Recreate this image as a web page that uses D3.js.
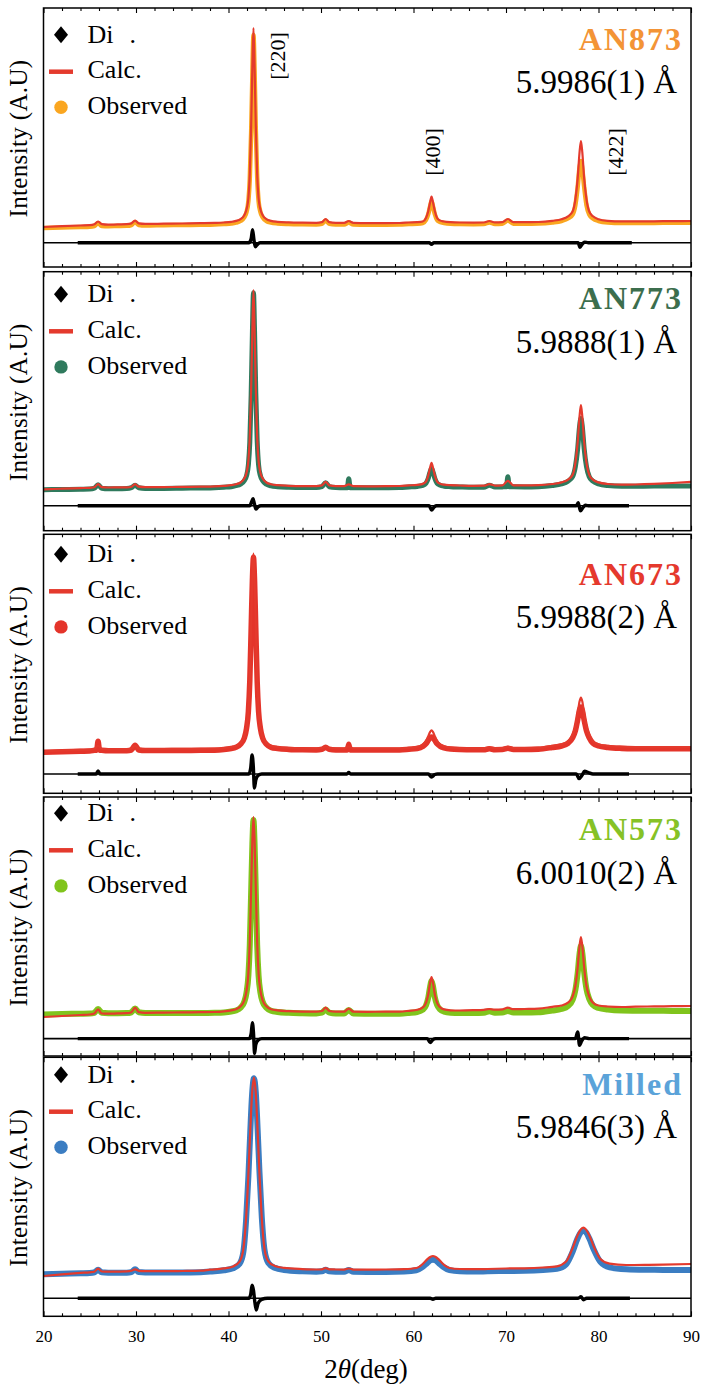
<!DOCTYPE html>
<html>
<head>
<meta charset="utf-8">
<script src="https://cdn.jsdelivr.net/npm/d3@7"></script>
<style>
  body { margin: 0; background: #fff; }
  svg { display: block; }
  text { font-family: "Liberation Serif", "Times New Roman", serif; fill: #000; }
</style>
</head>
<body>
<svg id="chart" width="704" height="1391"></svg>
<script>
// ---------------- DATA ----------------
const twoThetaDomain = [20, 90];
const intensityDomain = [0, 259];
const majorTicks = [20, 30, 40, 50, 60, 70, 80, 90];
const minorTicks = [22, 24, 26, 28, 32, 34, 36, 38, 42, 44, 46, 48, 52, 54, 56, 58, 62, 64, 66, 68, 72, 74, 76, 78, 82, 84, 86, 88];
const sampleNames = ["AN873", "AN773", "AN673", "AN573", "Milled"];
const latticeParams = ["5.9986(1) Å", "5.9888(1) Å", "5.9988(2) Å", "6.0010(2) Å", "5.9846(3) Å"];
const legendLabels = ["Di", "Calc.", "Observed"];
const peakLabels = ["[220]", "[400]", "[422]"];
const peakLabelTwoTheta = [45.3, 62.1, 81.8];
const peakLabelIntensity = [211, 115, 115];
const diffZero = [24.3, 24.9, 19.3, 17.4, 18.0];

const calcAN873 = [[20,40],[22,40.8],[24,41.5],[25,41.8],[25.5,42.8],[25.9,45.5],[26.3,42.8],[27,42.3],[28,42.6],[29,42.8],[29.5,43.6],[29.9,46.3],[30.3,43.6],[31,43.1],[33,43.3],[35,43.5],[37,43.8],[38.5,44.1],[39.5,44.5],[40.3,45.2],[40.8,46.1],[41.3,47.9],[41.7,51.8],[41.95,57.7],[42.15,69],[42.3,93],[42.45,141.5],[42.58,200],[42.7,239],[42.82,200],[42.95,141.5],[43.1,93],[43.25,69],[43.45,57.7],[43.7,51.8],[44.1,47.9],[44.6,46.1],[45.3,45.2],[46.5,44.6],[48,44.3],[49.5,44.2],[50.1,44.8],[50.5,48],[50.9,44.8],[51.6,44.2],[52.5,44.1],[53.0,46],[53.5,44.1],[55,43.9],[57,43.9],[58.5,44],[59.5,44.5],[60.4,44.8],[61.0,45.5],[61.35,49],[61.6,56],[61.8,65],[61.95,70.3],[62.1,65],[62.3,56],[62.55,49],[62.85,46.6],[63.3,45.5],[64.0,44.8],[65.0,44.5],[66.5,44.4],[67.6,44.5],[68.2,46],[68.8,44.6],[69.6,44.8],[70.2,48],[70.8,44.9],[72,44.8],[73.5,45],[75,46.2],[76,47.8],[76.7,50.7],[77.2,55.5],[77.5,67.7],[77.75,88.7],[77.95,114.7],[78.1,126],[78.25,114.7],[78.45,88.7],[78.7,67.7],[79.0,55.5],[79.4,50.7],[80.0,47.8],[81,46.2],[82.5,45.6],[84,45.6],[86,45.7],[88,45.9],[90,46]];
const obsAN873 = [[20,39],[22,39.5],[24,40],[25,40.3],[25.5,41],[25.9,44],[26.3,41],[27,40.8],[28,41],[29,41.2],[29.5,42],[29.9,45],[30.3,42],[31,41.5],[33,41.8],[35,42],[37,42.2],[38.5,42.5],[39.5,43],[40.3,43.5],[40.8,44.3],[41.3,46],[41.7,49.5],[41.95,55],[42.15,66],[42.3,88],[42.45,135],[42.58,192],[42.7,232],[42.82,196],[42.95,138],[43.1,90],[43.25,66],[43.45,55],[43.7,49.5],[44.1,46],[44.6,44.5],[45.3,43.6],[46.5,43],[48,42.7],[49.5,42.6],[50.1,43.2],[50.5,46.5],[50.9,43.2],[51.6,42.6],[52.5,42.5],[53.0,44.5],[53.5,42.5],[55,42.3],[57,42.3],[58.5,42.4],[59.5,42.9],[60.4,43.2],[61.0,44],[61.35,47],[61.6,53],[61.8,61],[61.95,66],[62.1,61],[62.3,53],[62.55,47],[62.85,45],[63.3,44],[64.0,43.2],[65.0,42.9],[66.5,42.8],[67.6,42.9],[68.2,44.5],[68.8,43],[69.6,43.2],[70.2,46.5],[70.8,43.3],[72,43.2],[73.5,43.4],[75,44.5],[76,46],[76.7,48.5],[77.2,52.5],[77.5,62],[77.75,80],[77.95,100],[78.1,106],[78.25,98],[78.45,80],[78.7,62],[79.0,52.5],[79.4,48.5],[80.0,46],[81,44.5],[82.5,44],[84,44],[86,44.1],[88,44.2],[90,44.3]];
const diffAN873 = [[23.7,0],[42.2,0],[42.45,4],[42.6,13],[42.75,3],[42.9,-4],[43.1,-2],[43.4,0],[61.7,0],[61.95,-1.5],[62.2,0],[77.8,0],[78.0,-4.5],[78.2,-2],[78.5,0.5],[78.9,0],[83.6,0]];

const calcAN773 = [[20,41.3],[22,42],[24,42.6],[25,42.9],[25.5,43.5],[25.9,46.6],[26.3,43.5],[27,43.2],[28,43.3],[29,43.4],[29.5,44],[29.9,46.6],[30.3,44],[31,43.5],[33,43.6],[35,43.8],[37,44],[38.5,44.3],[39.5,44.8],[40.3,45.5],[40.8,46.5],[41.3,48.2],[41.7,52.2],[41.95,58],[42.15,69.8],[42.3,93.4],[42.45,142.5],[42.58,201.3],[42.7,240.6],[42.82,201.3],[42.95,142.5],[43.1,93.4],[43.25,69.8],[43.45,58],[43.7,52.2],[44.1,48.2],[44.6,46.5],[45.3,45.5],[46.5,44.9],[48,44.6],[49.5,44.6],[50.1,45.3],[50.5,48.9],[50.9,45.3],[51.6,44.6],[52.5,44.5],[53.0,46.3],[53.5,44.5],[55,44.4],[57,44.5],[58.5,44.7],[59.5,45.3],[60.4,45.8],[61.0,46.8],[61.35,49.1],[61.6,55.3],[61.8,63.3],[61.95,67.9],[62.1,63.3],[62.3,55.3],[62.55,49.1],[62.85,47.1],[63.3,46],[64.0,45.5],[65.0,45.2],[66.5,44.9],[67.6,45],[68.2,46.6],[68.8,45.1],[69.6,45.3],[70.2,49.9],[70.8,45.4],[72,45.3],[73.5,45.5],[75,46.7],[76,48.3],[76.7,51.1],[77.2,55.9],[77.5,67.9],[77.75,88.7],[77.95,114.3],[78.1,125.6],[78.25,114.3],[78.45,88.7],[78.7,67.9],[79.0,55.9],[79.4,51.1],[80.0,48.3],[81,46.7],[82.5,46],[84,46.2],[86,46.8],[88,47.7],[90,48.9]];
const obsAN773 = [[20,41],[22,41.2],[24,41.5],[25,41.7],[25.5,42.5],[25.9,46],[26.3,42.5],[27,42],[28,42],[29,42.2],[29.5,43],[29.9,45.5],[30.3,43],[31,42.3],[33,42.3],[35,42.5],[37,42.7],[38.5,43],[39.5,43.5],[40.3,44],[40.8,45],[41.3,46.5],[41.7,50],[41.95,55],[42.15,66],[42.3,88],[42.45,136],[42.58,196],[42.7,238],[42.82,198],[42.95,138],[43.1,90],[43.25,66],[43.45,55],[43.7,50],[44.1,46.5],[44.6,44.8],[45.3,44],[46.5,43.4],[48,43.1],[49.5,43.1],[50.1,44],[50.5,48],[50.9,44],[51.6,43.2],[52.5,43],[52.85,43],[53.0,52],[53.15,43],[53.5,43],[55,42.9],[57,43],[58.5,43.2],[59.5,43.8],[60.4,44.3],[61.0,45.3],[61.35,47.5],[61.6,52.5],[61.8,59],[61.95,62.3],[62.1,59],[62.3,52.5],[62.55,47.5],[62.85,45.6],[63.3,44.5],[64.0,44],[65.0,43.7],[66.5,43.4],[67.6,43.5],[68.2,45.5],[68.8,43.6],[69.6,43.8],[70.05,44],[70.2,54],[70.35,44],[70.8,43.9],[72,43.8],[73.5,44],[75,45.2],[76,46.8],[76.7,49.5],[77.2,54],[77.5,64],[77.75,82],[77.95,104],[78.1,112.3],[78.25,104],[78.45,82],[78.7,64],[79.0,54],[79.4,49.5],[80.0,46.8],[81,45.2],[82.5,44.5],[84,44.5],[86,44.6],[88,44.7],[90,44.8]];
const diffAN773 = [[23.7,0],[42.3,0],[42.5,4],[42.65,7],[42.8,2],[42.95,-3.3],[43.2,-1],[43.5,0],[61.7,0],[61.95,-4.3],[62.25,-1],[62.5,0],[77.6,0],[77.8,3],[78.05,-5],[78.3,-2],[78.6,0.5],[79,0],[83.3,0]];

const calcAN673 = [[20,42],[22,42.8],[24,43.4],[25,43.7],[25.5,44.3],[25.9,47.5],[26.3,44.3],[27,44],[28,44.1],[29,44.2],[29.5,44.8],[29.9,47.5],[30.3,44.8],[31,44.3],[33,44.3],[35,44.4],[37,44.5],[38.5,44.6],[39.5,45.2],[40.3,46.3],[40.8,47.4],[41.3,50.4],[41.7,56.2],[41.95,66],[42.15,83.5],[42.3,114.8],[42.45,169.5],[42.58,216.3],[42.7,239.7],[42.82,216.3],[42.95,169.5],[43.1,114.8],[43.25,83.5],[43.45,66],[43.7,56.2],[44.1,50.4],[44.6,47.4],[45.3,46.3],[46.5,45.4],[48,45],[49.5,44.9],[50.1,45.3],[50.5,47],[50.9,45.3],[51.6,44.9],[52.5,44.8],[53.0,47],[53.5,44.8],[55,44.7],[57,44.7],[58.5,44.8],[59.5,45.5],[60.4,46.4],[61.0,48.8],[61.35,52.4],[61.6,57.2],[61.8,61.5],[61.95,63],[62.1,61.5],[62.3,57.2],[62.55,52.4],[62.85,49.2],[63.3,47],[64.0,45.7],[65.0,45.2],[66.5,45],[67.6,45],[68.2,46],[68.8,45.1],[69.6,45.2],[70.2,46.5],[70.8,45.3],[72,45.3],[73.5,45.6],[75,47.5],[76,49],[76.7,52],[77.2,58.4],[77.5,66.9],[77.75,79.8],[77.95,91.7],[78.1,95.7],[78.25,91.7],[78.45,79.8],[78.7,66.9],[79.0,58.4],[79.4,52],[80.0,49],[81,47.5],[82.5,46.6],[84,46.3],[86,46.2],[88,46.2],[90,46.3]];
const obsAN673 = [[20,41],[22,41.5],[24,42],[25,42.2],[25.5,43],[25.75,43.3],[25.9,52],[26.05,43.3],[26.3,43],[27,42.5],[28,42.5],[29,42.6],[29.5,43.3],[29.9,48],[30.3,43.3],[31,42.7],[33,42.7],[35,42.8],[37,43],[38.5,43.1],[39.5,43.7],[40.3,44.8],[40.8,46],[41.3,49],[41.7,55],[41.95,65],[42.15,82],[42.3,112],[42.45,165],[42.58,212],[42.7,236],[42.82,212],[42.95,165],[43.1,112],[43.25,82],[43.45,65],[43.7,55],[44.1,49],[44.6,46],[45.3,44.8],[46.5,43.9],[48,43.5],[49.5,43.4],[50.1,44],[50.5,46],[50.9,44],[51.6,43.4],[52.5,43.3],[52.85,43.3],[53.0,49],[53.15,43.3],[53.5,43.3],[55,43.2],[57,43.2],[58.5,43.3],[59.5,44],[60.4,44.8],[61.0,46.8],[61.35,49.5],[61.6,53],[61.8,55.6],[61.95,56.3],[62.1,55.6],[62.3,53],[62.55,49.5],[62.85,47.2],[63.3,45.5],[64.0,44.2],[65.0,43.7],[66.5,43.5],[67.6,43.5],[68.2,44.5],[68.8,43.6],[69.6,43.7],[70.2,45],[70.8,43.8],[72,43.8],[73.5,44.1],[75,45.8],[76,47.3],[76.7,50],[77.2,55.5],[77.5,62.5],[77.75,73.5],[77.95,83.5],[78.1,86.3],[78.25,83],[78.45,73],[78.7,62.5],[79.0,55.5],[79.4,50],[80.0,47.3],[81,45.8],[82.5,44.9],[84,44.6],[86,44.5],[88,44.5],[90,44.6]];
const diffAN673 = [[23.7,0],[25.7,0],[25.9,3],[26.1,0],[42.2,0],[42.4,6],[42.55,19],[42.68,8],[42.8,-14],[42.95,-6],[43.2,-1.5],[43.6,0],[52.8,0],[53,1.5],[53.2,0],[61.6,0],[61.95,-3],[62.3,-0.5],[62.6,0],[77.6,0],[77.9,-4.6],[78.2,-1.5],[78.5,2.7],[78.9,1.5],[79.4,0],[83.3,0]];

const calcAN573 = [[20,39],[22,40],[24,41],[25,41.5],[25.5,42.5],[25.9,46.7],[26.3,42.5],[27,42.3],[28,42.6],[29,42.8],[29.5,43.8],[29.9,48.4],[30.3,43.8],[31,43.2],[33,43.4],[35,43.6],[37,43.8],[38.5,44],[39.5,44.6],[40.3,45.6],[40.8,46.7],[41.3,49.7],[41.7,55.5],[41.95,65.3],[42.15,82.8],[42.3,114.1],[42.45,168.7],[42.58,215.6],[42.7,239],[42.82,215.6],[42.95,168.7],[43.1,114.1],[43.25,82.8],[43.45,65.3],[43.7,55.5],[44.1,49.7],[44.6,46.7],[45.3,45.6],[46.5,44.8],[48,44.4],[49.5,44.3],[50.1,45],[50.5,48.4],[50.9,45],[51.6,44.3],[52.5,44.3],[53.0,47.4],[53.5,44.3],[55,44.2],[57,44.3],[58.5,44.4],[59.5,45.2],[60.4,46.2],[61.0,48.6],[61.35,53.1],[61.6,61.8],[61.8,73.5],[61.95,79],[62.1,73.5],[62.3,61.8],[62.55,53.1],[62.85,49],[63.3,46.6],[64.0,45.7],[65.0,45.5],[66.5,45.8],[67.6,46.2],[68.2,47],[68.8,46.4],[69.6,46.6],[70.2,48.4],[70.8,46.8],[72,47],[73.5,47.3],[75,49.2],[76,50.5],[76.7,53.3],[77.2,59.4],[77.5,70],[77.75,88.5],[77.95,109.8],[78.1,119],[78.25,109.8],[78.45,88.5],[78.7,70],[79.0,59.4],[79.4,53.3],[80.0,50.5],[81,49.5],[82.5,49],[84,49.3],[86,49.6],[88,49.8],[90,50]];
const obsAN573 = [[20,41.5],[22,42],[24,42.3],[25,42.5],[25.5,43.2],[25.9,47],[26.3,43.2],[27,42.8],[28,42.8],[29,42.9],[29.5,43.7],[29.9,47.5],[30.3,43.7],[31,43],[33,43],[35,43],[37,43],[38.5,43.2],[39.5,43.6],[40.3,44.5],[40.8,45.5],[41.3,48.3],[41.7,54],[41.95,63.5],[42.15,80.5],[42.3,111],[42.45,165],[42.58,212],[42.7,236],[42.82,212],[42.95,165],[43.1,111],[43.25,80.5],[43.45,63.5],[43.7,54],[44.1,48.3],[44.6,45.3],[45.3,44],[46.5,43.2],[48,42.8],[49.5,42.6],[50.1,43.3],[50.5,46.5],[50.9,43.3],[51.6,42.5],[52.5,42.5],[53.0,46],[53.5,42.5],[55,42.3],[57,42.2],[58.5,42.3],[59.5,43],[60.4,44],[61.0,46.3],[61.35,50.5],[61.6,58.5],[61.8,69.5],[61.95,75],[62.1,70],[62.3,59],[62.55,51],[62.85,46.8],[63.3,44.4],[64.0,43.3],[65.0,43],[66.5,43],[67.6,43.2],[68.2,44.8],[68.8,43.3],[69.6,43.4],[70.2,45],[70.8,43.5],[72,43.5],[73.5,43.7],[75,45.5],[76,47],[76.7,50],[77.2,56],[77.5,66],[77.75,83],[77.95,102],[78.1,110],[78.25,103],[78.45,84],[78.7,67],[79.0,57],[79.4,51],[80.0,48],[81,46.5],[82.5,45.5],[84,45.3],[86,45.2],[88,45.1],[90,45]];
const diffAN573 = [[23.7,0],[42.25,0],[42.45,5],[42.58,16],[42.7,6],[42.82,-15],[42.95,-6],[43.2,-1.5],[43.6,0],[61.5,0],[61.8,-4],[62.1,-1],[62.4,0],[77.5,0],[77.75,6.6],[77.95,-6.7],[78.2,-2],[78.5,1],[79,0],[83.3,0]];

const calcMilled = [[20,40.3],[22,42],[24,43.4],[25,44],[25.5,44.6],[25.9,47.7],[26.3,44.8],[27,44.6],[28,44.7],[29,44.9],[29.5,45.5],[29.9,47],[30.3,45.5],[31,45.1],[33,45.1],[35,45.3],[37,45.6],[38,46.6],[39.5,47.9],[40.5,49.9],[41.2,54.7],[41.6,67],[41.9,98],[42.15,142],[42.35,185],[42.55,223],[42.75,238.6],[42.95,223],[43.15,185],[43.35,142],[43.6,98],[43.9,67],[44.3,55],[45,50.4],[46,48.4],[48,47.2],[49.5,46.8],[50.1,47],[50.5,48.2],[50.9,47],[51.6,46.8],[52.5,46.7],[53.0,47.8],[53.5,46.7],[55,46.7],[57,46.8],[59,47.2],[60.3,48.3],[61.0,52.3],[61.5,57.1],[61.85,59.6],[62.1,60.3],[62.35,59.6],[62.7,57.1],[63.2,52.3],[63.9,48.3],[65,47.3],[66.5,47.1],[68,47.3],[70,47.8],[72,48],[74,48.8],[75.5,50],[76.5,54.8],[77.2,68.2],[77.7,80.2],[78.05,86.5],[78.35,88.6],[78.65,86.7],[79.0,81],[79.5,69.5],[80.2,57.4],[81.2,52.7],[83,51.3],[85,51.4],[87,51.7],[90,52.3]];
const obsMilled = [[20,42],[22,42.5],[24,43],[25,43.3],[25.5,44],[25.9,46.5],[26.3,44],[27,43.6],[28,43.5],[29,43.6],[29.5,44.2],[29.9,47],[30.3,44.2],[31,43.8],[33,43.7],[35,43.8],[37,44],[38,44.8],[39.5,46],[40.5,48],[41.2,52.5],[41.6,64],[41.9,96],[42.15,140],[42.35,184],[42.55,222],[42.75,238],[42.95,224],[43.15,187],[43.35,144],[43.6,99],[43.9,66],[44.3,53.5],[45,48.5],[46,46.3],[48,45],[49.5,44.6],[50.1,45],[50.5,46.5],[50.9,45],[51.6,44.6],[52.5,44.5],[53.0,46.3],[53.5,44.5],[55,44.4],[57,44.4],[59,44.8],[60.3,46],[61.0,49.5],[61.5,53.5],[61.85,56],[62.1,56.5],[62.35,56],[62.7,53.5],[63.2,49.5],[63.9,46.2],[65,45],[66.5,44.8],[68,45],[70,45.3],[72,45.5],[74,46.3],[75.5,47.5],[76.5,52],[77.2,64.5],[77.7,77],[78.05,83.5],[78.35,85.5],[78.65,84],[79.0,78],[79.5,66.5],[80.2,54.5],[81.2,49],[83,47],[85,46.5],[87,46.4],[90,46.3]];
const diffMilled = [[23.7,0],[42.2,0],[42.4,4],[42.55,13],[42.7,8],[42.85,-4],[43.0,-11.7],[43.2,-5],[43.6,-1],[44.2,0],[61.8,0],[62.1,-1],[62.4,0],[77.8,0],[78.1,1.5],[78.4,-1.5],[78.7,0],[83.4,0]];

// ---------------- STYLE / LAYOUT ----------------
const calcColor = "#E43A2D";
const obsColors = ["#FAA620", "#2F7A5D", "#E4342A", "#80C41C", "#3B7DC2"];
const nameColors = ["#F39436", "#3C6E4D", "#E5392D", "#86C226", "#5BA3D9"];
const obsWidths = [4.5, 5, 5.5, 6, 6];
const panelTops = [8, 271.7, 534.3, 797, 1057.3];
const panelH = 259;
const xLeft = 43.5, xRight = 691;
const nameBaseline = [42, 37.6, 50.7, 42.7, 37.7];
const latticeBaseline = [85.3, 81.6, 94, 86.7, 81];
const legendBaseline = [34.7, 30.6, 28, 24.3, 25.4];

const panels = [
  { calc: calcAN873, obs: obsAN873, diff: diffAN873 },
  { calc: calcAN773, obs: obsAN773, diff: diffAN773 },
  { calc: calcAN673, obs: obsAN673, diff: diffAN673 },
  { calc: calcAN573, obs: obsAN573, diff: diffAN573 },
  { calc: calcMilled, obs: obsMilled, diff: diffMilled }
];

// ---------------- DRAW ----------------
const svg = d3.select("#chart");
const defs = svg.append("defs");
const x = d3.scaleLinear().domain(twoThetaDomain).range([xLeft, xRight]);

panels.forEach((p, i) => {
  const top = panelTops[i], bottom = top + panelH;
  const y = d3.scaleLinear().domain(intensityDomain).range([bottom, top]);
  const clipId = "clip" + i;
  defs.append("clipPath").attr("id", clipId)
    .append("rect").attr("x", xLeft).attr("y", top)
    .attr("width", xRight - xLeft).attr("height", panelH);

  const g = svg.append("g");
  const plot = g.append("g").attr("clip-path", `url(#${clipId})`);
  const line = d3.line().x(d => x(d[0])).y(d => y(d[1])).curve(d3.curveMonotoneX);

  plot.append("path").datum(p.obs).attr("d", line)
    .attr("fill", "none").attr("stroke", obsColors[i])
    .attr("stroke-width", obsWidths[i]).attr("stroke-linejoin", "round").attr("stroke-linecap", "round");
  plot.append("path").datum(p.calc).attr("d", line)
    .attr("fill", "none").attr("stroke", calcColor).attr("stroke-width", 2.2);

  // difference
  plot.append("line")
    .attr("x1", x(twoThetaDomain[0])).attr("x2", x(twoThetaDomain[1]))
    .attr("y1", y(diffZero[i])).attr("y2", y(diffZero[i]))
    .attr("stroke", "#000").attr("stroke-width", 1.6);
  const dline = d3.line().x(d => x(d[0])).y(d => y(diffZero[i] + d[1])).curve(d3.curveMonotoneX);
  plot.append("path").datum(p.diff).attr("d", dline)
    .attr("fill", "none").attr("stroke", "#000").attr("stroke-width", 3.4).attr("stroke-linejoin", "round");

  // frame
  g.append("rect").attr("x", xLeft).attr("y", top)
    .attr("width", xRight - xLeft).attr("height", panelH)
    .attr("fill", "none").attr("stroke", "#000").attr("stroke-width", 1.5);

  // ticks
  const isLast = i === panels.length - 1;
  const bAxis = g.append("g").attr("transform", `translate(0,${bottom})`)
    .call(d3.axisBottom(x).tickValues(majorTicks).tickSize(-5).tickPadding(14)
      .tickFormat(isLast ? d3.format("d") : () => ""));
  const bMinor = g.append("g").attr("transform", `translate(0,${bottom})`)
    .call(d3.axisBottom(x).tickValues(minorTicks).tickSize(-3).tickFormat(() => ""));
  const tAxis = g.append("g").attr("transform", `translate(0,${top})`)
    .call(d3.axisTop(x).tickValues(majorTicks).tickSize(-5).tickFormat(() => ""));
  const tMinor = g.append("g").attr("transform", `translate(0,${top})`)
    .call(d3.axisTop(x).tickValues(minorTicks).tickSize(-3).tickFormat(() => ""));
  [bAxis, bMinor, tAxis, tMinor].forEach(a => {
    a.select(".domain").remove();
    a.selectAll(".tick line").attr("stroke", "#000").attr("stroke-width", 1.1);
    a.selectAll(".tick text").attr("font-family", "Liberation Serif, serif").attr("font-size", 17).attr("fill", "#000");
  });

  // y label
  g.append("text")
    .attr("transform", `translate(27,${top + panelH / 2 + 1}) rotate(-90)`)
    .attr("text-anchor", "middle").attr("font-size", 25).attr("letter-spacing", 0.35)
    .text("Intensity (A.U)");

  // legend
  const lb = top + legendBaseline[i];
  g.append("path")
    .attr("d", `M61,${lb - 16.5} L68,${lb - 8} L61,${lb + 0.5} L54,${lb - 8} Z`)
    .attr("fill", "#000");
  g.append("text").attr("x", 87.5).attr("y", lb).attr("font-size", 26).text(legendLabels[0]);
  g.append("text").attr("x", 129.5).attr("y", lb).attr("font-size", 26).text(".");
  g.append("line").attr("x1", 49).attr("x2", 73)
    .attr("y1", lb + 29).attr("y2", lb + 29)
    .attr("stroke", calcColor).attr("stroke-width", 4.5);
  g.append("text").attr("x", 87.5).attr("y", lb + 35.6).attr("font-size", 26).text(legendLabels[1]);
  g.append("circle").attr("cx", 61).attr("cy", lb + 64.6).attr("r", 6.7).attr("fill", obsColors[i]);
  g.append("text").attr("x", 87.5).attr("y", lb + 71.6).attr("font-size", 26).text(legendLabels[2]);

  // sample name & lattice parameter
  g.append("text").attr("x", 683).attr("y", top + nameBaseline[i])
    .attr("text-anchor", "end")
    .attr("font-weight", "bold").attr("font-size", 32).attr("letter-spacing", 2)
    .style("fill", nameColors[i])
    .text(sampleNames[i]);
  g.append("text").attr("x", 677).attr("y", top + latticeBaseline[i])
    .attr("text-anchor", "end").attr("font-size", 33)
    .text(latticeParams[i]);

  // peak labels (first panel only)
  if (i === 0) {
    peakLabels.forEach((lab, k) => {
      g.append("text")
        .attr("transform", `translate(${x(peakLabelTwoTheta[k])},${y(peakLabelIntensity[k])}) rotate(-90)`)
        .attr("text-anchor", "middle").attr("dominant-baseline", "central")
        .attr("font-size", 22).text(lab);
    });
  }
});

// x-axis title
const xt = svg.append("text").attr("x", 366).attr("y", 1378)
  .attr("text-anchor", "middle").attr("font-size", 27);
xt.append("tspan").text("2");
xt.append("tspan").attr("font-style", "italic").text("θ");
xt.append("tspan").text("(deg)");
</script>
</body>
</html>
